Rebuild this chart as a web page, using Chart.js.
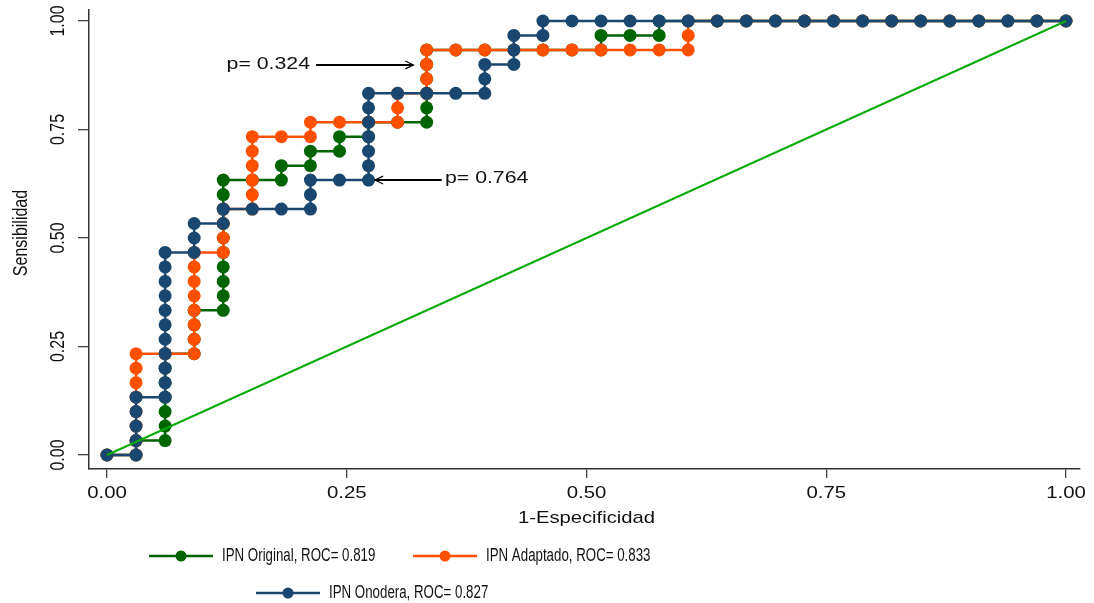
<!DOCTYPE html>
<html>
<head>
<meta charset="utf-8">
<title>Curvas ROC IPN</title>
<script src="https://cdn.jsdelivr.net/npm/chart.js@4.4.1/dist/chart.umd.min.js"></script>
<style>
  body { margin: 0; background: #fff; }
  #wrap { width: 1094px; height: 603px; }
</style>
</head>
<body>
<div id="wrap"><canvas id="rocChart" width="1094" height="603"></canvas></div>
<script>
// sample sizes: 33 negatives (x steps), 30 positives (y steps)
const nNeg = 33;
const nPos = 30;

// false positives / true positives counted at each cutoff
const fpOriginal = [0,1,1,2,2,2,2,2,2,2,3,3,3,3,4,4,4,4,4,4,4,4,4,4,5,6,6,7,7,8,8,9,9,10,11,11,11,11,11,11,12,13,14,15,16,17,17,18,19,19,20,21,22,23,24,25,26,27,28,29,30,31,32,33];
const tpOriginal = [0,0,1,1,2,3,4,5,6,7,7,8,9,10,10,11,12,13,14,15,16,17,18,19,19,19,20,20,21,21,22,22,23,23,23,24,25,26,27,28,28,28,28,28,28,28,29,29,29,30,30,30,30,30,30,30,30,30,30,30,30,30,30,30];

const fpAdaptado = [0,1,1,1,1,1,1,1,1,2,3,3,3,3,3,3,3,3,4,4,4,4,5,5,5,5,5,5,6,7,7,8,9,10,10,10,11,11,11,11,12,13,14,15,16,17,18,19,20,20,20,21,22,23,24,25,26,27,28,29,30,31,32,33];
const tpAdaptado = [0,0,1,2,3,4,5,6,7,7,7,8,9,10,11,12,13,14,14,15,16,17,17,18,19,20,21,22,22,22,23,23,23,23,24,25,25,26,27,28,28,28,28,28,28,28,28,28,28,29,30,30,30,30,30,30,30,30,30,30,30,30,30,30];

const fpOnodera = [0,1,1,1,1,1,2,2,2,2,2,2,2,2,2,2,2,3,3,3,4,4,5,6,7,7,7,8,9,9,9,9,9,9,9,10,11,12,13,13,13,14,14,14,15,15,16,17,18,19,20,21,22,23,24,25,26,27,28,29,30,31,32,33];
const tpOnodera = [0,0,1,2,3,4,4,5,6,7,8,9,10,11,12,13,14,14,15,16,16,17,17,17,17,18,19,19,19,20,21,22,23,24,25,25,25,25,25,26,27,27,28,29,29,30,30,30,30,30,30,30,30,30,30,30,30,30,30,30,30,30,30,30];

const refX = [0, 1];
const refY = [0, 1];

const seriesNames = ['IPN Original, ROC= 0.819', 'IPN Adaptado, ROC= 0.833', 'IPN Onodera, ROC= 0.827'];
const xTicks = [0, 0.25, 0.5, 0.75, 1];
const yTicks = [0, 0.25, 0.5, 0.75, 1];
const tickText = ['0.00', '0.25', '0.50', '0.75', '1.00'];
const pLabels = ['p= 0.324', 'p= 0.764'];

const colGreen = '#006400';
const colOrange = '#ff5000';
const colBlue = '#1a476f';
const colRef = '#0aaa0a';

function toPoints(fp, tp) {
  return fp.map((f, i) => ({ x: f / nNeg, y: tp[i] / nPos }));
}

function rocSet(label, fp, tp, color) {
  return {
    label: label,
    data: toPoints(fp, tp),
    showLine: true,
    borderColor: color,
    backgroundColor: color,
    borderWidth: 2.5,
    pointRadius: 6.5,
    pointHoverRadius: 6.5,
    pointBorderWidth: 0,
    pointBackgroundColor: color,
    clip: false
  };
}

// text with horizontal stretch (the reference fonts are stretched)
function putText(ctx, txt, x, y, size, sx, align, rotated) {
  ctx.save();
  ctx.translate(x, y);
  if (rotated) {
    ctx.rotate(-Math.PI / 2);
    ctx.scale(1, sx);
  } else {
    ctx.scale(sx, 1);
  }
  ctx.font = size + 'px "Liberation Sans", Arial, sans-serif';
  ctx.textAlign = align;
  ctx.textBaseline = 'middle';
  ctx.fillStyle = '#111';
  ctx.fillText(txt, 0, 0);
  ctx.restore();
}

function arrow(ctx, x0, y0, x1, y1) {
  const ang = Math.atan2(y1 - y0, x1 - x0);
  ctx.save();
  ctx.strokeStyle = '#000';
  ctx.lineWidth = 1.8;
  ctx.beginPath();
  ctx.moveTo(x0, y0);
  ctx.lineTo(x1, y1);
  ctx.stroke();
  ctx.lineWidth = 1.2;
  ctx.beginPath();
  ctx.moveTo(x1 - 9 * Math.cos(ang - 0.45), y1 - 9 * Math.sin(ang - 0.45));
  ctx.lineTo(x1, y1);
  ctx.lineTo(x1 - 9 * Math.cos(ang + 0.45), y1 - 9 * Math.sin(ang + 0.45));
  ctx.stroke();
  ctx.restore();
}

const textPlugin = {
  id: 'stataText',
  afterDraw(chart) {
    const ctx = chart.ctx;
    const xs = chart.scales.x;
    const ys = chart.scales.y;

    // tick labels
    xTicks.forEach((v, i) => putText(ctx, tickText[i], xs.getPixelForValue(v), 493, 17, 1.2, 'center', false));
    yTicks.forEach((v, i) => putText(ctx, tickText[i], 58, ys.getPixelForValue(v), 16, 1.3, 'center', true));

    // axis titles
    putText(ctx, '1-Especificidad', xs.getPixelForValue(0.5), 518, 17, 1.19, 'center', false);
    putText(ctx, 'Sensibilidad', 21, 233, 16, 1.3, 'center', true);

    // p-value notes with arrows
    let tx = xs.getPixelForValue(0.2117), ty = ys.getPixelForValue(0.9);
    putText(ctx, pLabels[0], tx, ty, 16, 1.33, 'right', false);
    arrow(ctx, xs.getPixelForValue(0.218), ys.getPixelForValue(0.8986), xs.getPixelForValue(0.3195), ys.getPixelForValue(0.8986));
    tx = xs.getPixelForValue(0.3524); ty = ys.getPixelForValue(0.637);
    putText(ctx, pLabels[1], tx, ty, 16, 1.33, 'left', false);
    arrow(ctx, xs.getPixelForValue(0.349), ys.getPixelForValue(0.6336), xs.getPixelForValue(0.2795), ys.getPixelForValue(0.6336));

    // legend, stata style: line with a marker in the middle
    const items = [
      { c: colGreen, x: 149, y: 556 },
      { c: colOrange, x: 413, y: 556 },
      { c: colBlue, x: 256, y: 593 }
    ];
    items.forEach((it, i) => {
      ctx.save();
      ctx.strokeStyle = it.c;
      ctx.fillStyle = it.c;
      ctx.lineWidth = 2.5;
      ctx.beginPath();
      ctx.moveTo(it.x, it.y);
      ctx.lineTo(it.x + 64, it.y);
      ctx.stroke();
      ctx.beginPath();
      ctx.arc(it.x + 32, it.y, 5.5, 0, Math.PI * 2);
      ctx.fill();
      ctx.restore();
      putText(ctx, seriesNames[i], it.x + 73, it.y, 17.5, 0.76, 'left', false);
    });
  }
};

const rocChart = new Chart(document.getElementById('rocChart'), {
  type: 'scatter',
  data: {
    datasets: [
      {
        label: 'referencia',
        data: refX.map((x, i) => ({ x: x, y: refY[i] })),
        showLine: true,
        borderColor: colRef,
        borderWidth: 2,
        pointRadius: 0,
        clip: false
      },
      rocSet(seriesNames[2], fpOnodera, tpOnodera, colBlue),
      rocSet(seriesNames[1], fpAdaptado, tpAdaptado, colOrange),
      rocSet(seriesNames[0], fpOriginal, tpOriginal, colGreen)
    ]
  },
  options: {
    responsive: false,
    animation: false,
    devicePixelRatio: 1,
    layout: { padding: { top: 10, right: 14, left: 0, bottom: 0 } },
    plugins: {
      legend: { display: false },
      tooltip: { enabled: false }
    },
    scales: {
      x: {
        type: 'linear',
        min: -0.01877,
        max: 1.0146,
        afterBuildTicks: (s) => { s.ticks = xTicks.map(v => ({ value: v })); },
        afterFit: (s) => { s.height = 134; },
        ticks: { display: false },
        grid: { drawOnChartArea: false, drawTicks: true, tickLength: 9, color: '#444', lineWidth: 1.3 },
        border: { display: true, color: '#333', width: 1.5 }
      },
      y: {
        type: 'linear',
        min: -0.03226,
        max: 1.0253,
        afterBuildTicks: (s) => { s.ticks = yTicks.map(v => ({ value: v })); },
        afterFit: (s) => { s.width = 89; },
        ticks: { display: false },
        grid: { drawOnChartArea: false, drawTicks: true, tickLength: 11, color: '#444', lineWidth: 1.3 },
        border: { display: true, color: '#333', width: 1.5 }
      }
    }
  },
  plugins: [textPlugin]
});
</script>
</body>
</html>
